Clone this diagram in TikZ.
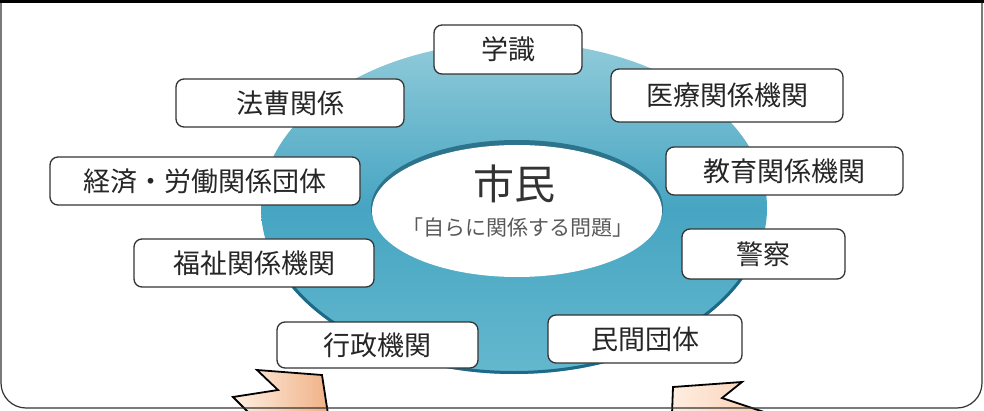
\documentclass[tikz,border=0pt]{standalone}
\usepackage{fontspec}
\newfontfamily\jp{Noto Sans CJK JP}
\definecolor{ringtop}{RGB}{145,203,218}
\definecolor{ringmid}{RGB}{70,165,194}
\definecolor{ringbot}{RGB}{100,184,206}
\definecolor{ringrim}{RGB}{30,105,135}
\definecolor{innershadow}{RGB}{45,115,140}
\definecolor{arrowl}{RGB}{255,240,228}
\definecolor{arrowr}{RGB}{240,178,135}
\definecolor{arrowlb}{RGB}{255,238,225}
\definecolor{arrowrb}{RGB}{248,205,175}
\begin{document}
\begin{tikzpicture}[x=1pt,y=-1pt,
  lab/.style={draw=black!80, line width=1.3pt, rounded corners=8pt, fill=white,
    inner sep=0pt, font=\jp\fontsize{27}{27}\selectfont, text=black!85},
  arrowshape/.style={draw=black, line width=1.8pt, line join=miter},
]
\useasboundingbox (0,0) rectangle (984,411);
% ring
\shade[top color=ringtop, bottom color=ringbot, middle color=ringmid]
  (514,208) ellipse [x radius=253, y radius=166];
\begin{scope}
  \clip (230,250) rectangle (800,390);
  \draw[ringrim, line width=3pt] (514,208) ellipse [x radius=251.5, y radius=164.5];
\end{scope}
% inner ellipse
\fill[innershadow] (517,208) ellipse [x radius=146, y radius=68];
\fill[white] (517,211) ellipse [x radius=145, y radius=66];
\node[text=black!80, font=\jp\fontsize{41}{41}\selectfont] (shimin) at (514,184) {市民};
\node[text=black!65, font=\jp\fontsize{21}{21}\selectfont] (mondai) at (518,228) {「自らに関係する問題」};
% boxes
\node[lab, minimum width=148pt, minimum height=49pt] (gakushiki) at (508,49.5) {学識};
\node[lab, minimum width=228pt, minimum height=48pt] (hoso) at (290,103) {法曹関係};
\node[lab, minimum width=232pt, minimum height=53pt] (iryo) at (727,95.5) {医療関係機関};
\node[lab, minimum width=237pt, minimum height=48pt] (kyoiku) at (784.5,171) {教育関係機関};
\node[lab, minimum width=310pt, minimum height=48pt] (keizai) at (205,181) {経済・労働関係団体};
\node[lab, minimum width=163pt, minimum height=50pt] (keisatsu) at (763.5,254) {警察};
\node[lab, minimum width=240pt, minimum height=48pt] (fukushi) at (254,263) {福祉関係機関};
\node[lab, minimum width=201pt, minimum height=46pt] (gyosei) at (377.5,345) {行政機関};
\node[lab, minimum width=194pt, minimum height=48pt] (minkan) at (645,339) {民間団体};
% arrows
\shade[arrowshape, left color=arrowl, right color=arrowr]
  (257,370) -- (322,375) -- (328,414) -- (250,414) -- (233,397) -- (278,390) -- cycle;
\shade[arrowshape, left color=arrowlb, right color=arrowrb]
  (673,387) -- (742,382) -- (722,398) -- (770,414) -- (672,414) -- cycle;
% frame
\draw[black!80, line width=1.2pt, rounded corners=25pt] (1,2) -- (1,408) -- (982,408) -- (982,2);
\draw[black, line width=3pt] (0,2) -- (984,2);
\end{tikzpicture}
\end{document}
